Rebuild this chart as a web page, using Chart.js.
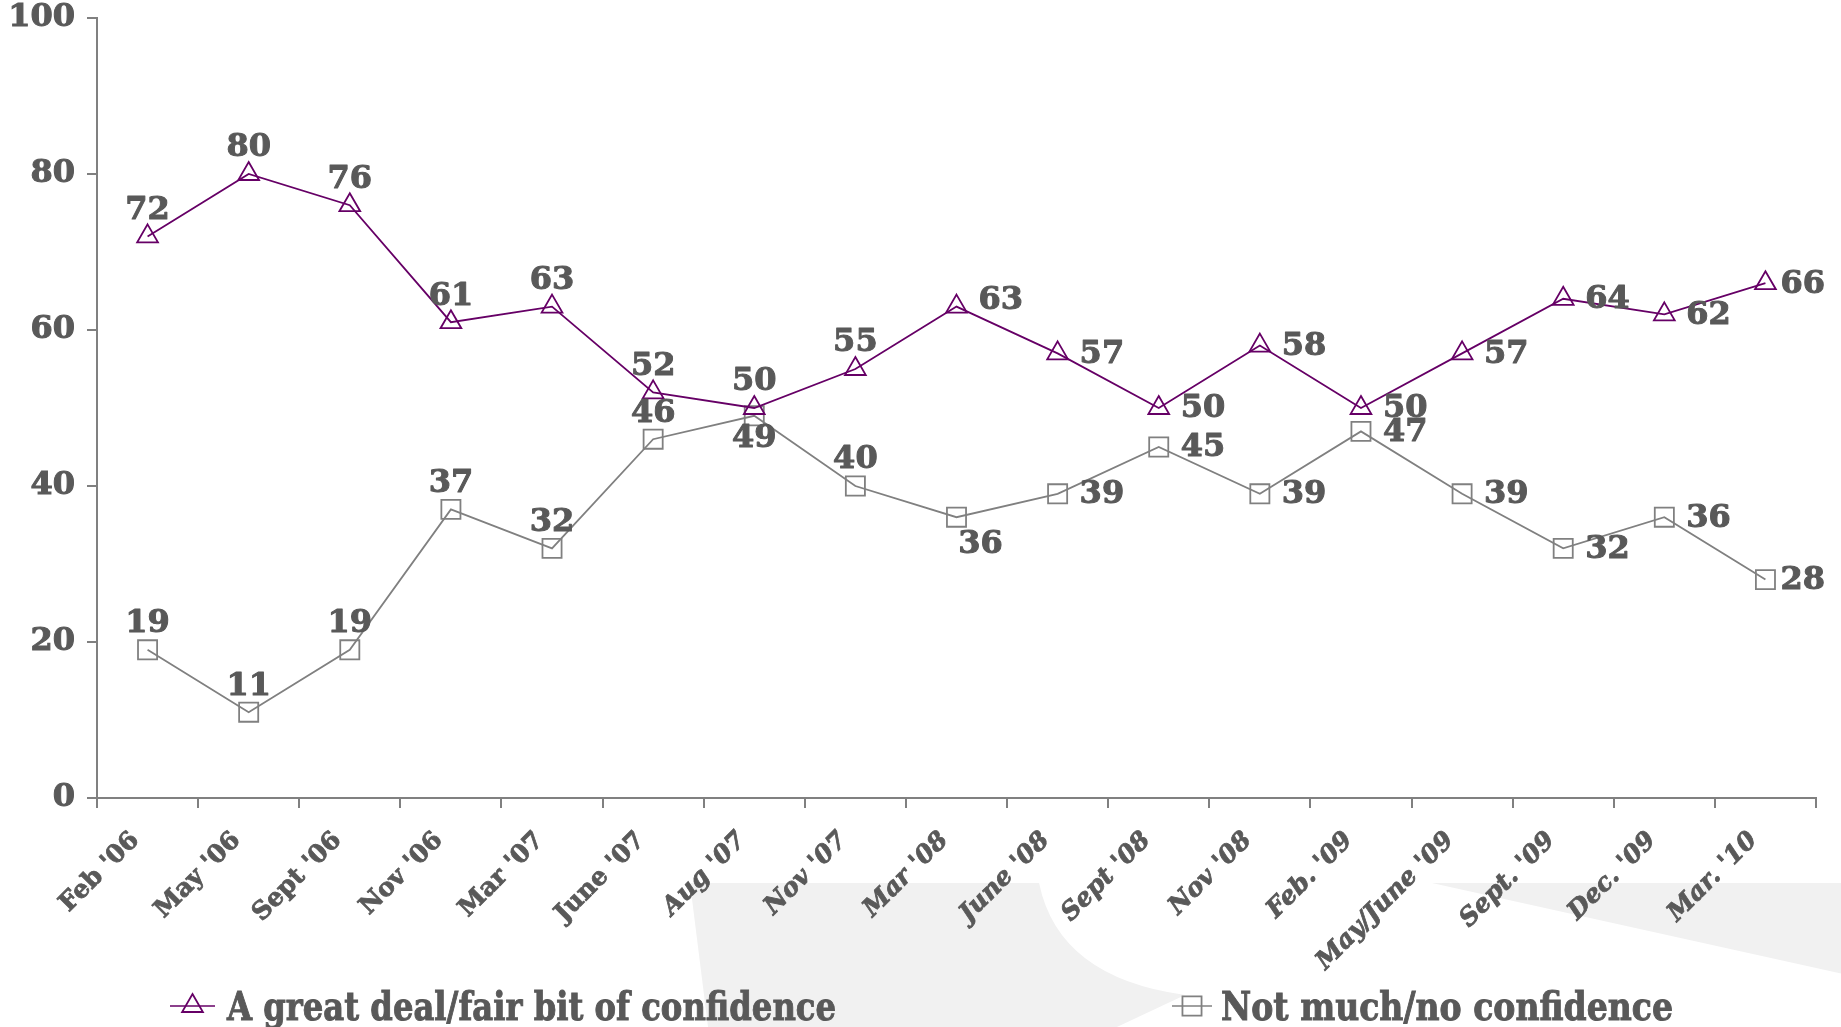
<!DOCTYPE html>
<html>
<head>
<meta charset="utf-8">
<script src="https://cdn.jsdelivr.net/npm/chart.js@4"></script>
<style>
  html, body { margin: 0; padding: 0; background: #ffffff; }
  canvas { display: block; }
</style>
</head>
<body>
<canvas id="c" width="1841" height="1027"></canvas>
<script>
const categories = ["Feb '06", "May '06", "Sept '06", "Nov '06", "Mar '07", "June '07", "Aug '07", "Nov '07", "Mar '08", "June '08", "Sept '08", "Nov '08", "Feb. '09", "May/June '09", "Sept. '09", "Dec. '09", "Mar. '10"];
const greatDeal = [72, 80, 76, 61, 63, 52, 50, 55, 63, 57, 50, 58, 50, 57, 64, 62, 66];
const notMuch = [19, 11, 19, 37, 32, 46, 49, 40, 36, 39, 45, 39, 47, 39, 32, 36, 28];
const seriesNames = ["A great deal/fair bit of confidence", "Not much/no confidence"];
const yTicks = [0, 20, 40, 60, 80, 100];

// label placement codes: t = above, r = right, b = below, br = below-right, tr = slightly raised right, rc = close right
const placeGreat = ['t','t','t','t','t','t','t','t','tr','r','r','r','r','r','r','r','rc'];
const placeNot   = ['t','t','t','t','t','t','b','t','br','r','r','r','r','r','r','r','rc'];

const TEXT = '#595959';
const PURPLE = '#660066';
const GREY = '#808080';

const backdrop = {
  id: 'backdrop',
  beforeDraw(chart) {
    const ctx = chart.ctx, W = chart.width, H = chart.height;
    ctx.save();
    ctx.fillStyle = '#f1f1f1';
    ctx.beginPath();
    ctx.moveTo(W * 0.3748, H * 0.8598);
    ctx.lineTo(W * 0.5644, H * 0.8598);
    ctx.quadraticCurveTo(W * 0.575, H * 0.952, W * 0.6437, H * 0.9688);
    ctx.lineTo(W * 0.6067, H);
    ctx.lineTo(W * 0.3846, H);
    ctx.closePath();
    ctx.fill();
    ctx.beginPath();
    ctx.moveTo(W * 0.7778, H * 0.8598);
    ctx.lineTo(W, H * 0.8598);
    ctx.lineTo(W, H * 0.948);
    ctx.closePath();
    ctx.fill();
    ctx.restore();
  }
};

const valueLabels = {
  id: 'valueLabels',
  afterDatasetsDraw(chart) {
    const ctx = chart.ctx;
    const places = [placeGreat, placeNot];
    ctx.save();
    ctx.font = 'bold 32px "DejaVu Serif"';
    ctx.fillStyle = TEXT;
    ctx.strokeStyle = TEXT;
    ctx.lineWidth = 1;
    ctx.lineJoin = 'round';
    chart.data.datasets.forEach((ds, di) => {
      const meta = chart.getDatasetMeta(di);
      meta.data.forEach((pt, i) => {
        const txt = String(ds.data[i]);
        const p = places[di][i];
        let x = pt.x, y = pt.y;
        ctx.textBaseline = 'middle';
        if (p === 't') { ctx.textAlign = 'center'; y -= 27; }
        else if (p === 'b') { ctx.textAlign = 'center'; y += 22; }
        else if (p === 'br') { ctx.textAlign = 'center'; x += 24; y += 26; }
        else if (p === 'tr') { ctx.textAlign = 'left'; x += 22; y -= 7; }
        else if (p === 'rc') { ctx.textAlign = 'left'; x += 15; }
        else { ctx.textAlign = 'left'; x += 22; }
        ctx.fillText(txt, x, y + 1);
        ctx.strokeText(txt, x, y + 1);
      });
    });
    ctx.restore();
  }
};

const customLegend = {
  id: 'customLegend',
  afterDraw(chart) {
    const ctx = chart.ctx;
    const items = [
      { lineX: 170, lineW: 45, textX: 227, maxW: 609 },
      { lineX: 1172, lineW: 40, textX: 1221, maxW: 452 }
    ];
    const yMid = 1006;
    ctx.save();
    chart.data.datasets.forEach((ds, i) => {
      const it = items[i];
      ctx.strokeStyle = ds.borderColor;
      ctx.lineWidth = 1.5;
      ctx.beginPath();
      ctx.moveTo(it.lineX, yMid);
      ctx.lineTo(it.lineX + it.lineW, yMid);
      ctx.stroke();
      ctx.lineWidth = ds.pointBorderWidth;
      ctx.fillStyle = 'rgba(0,0,0,0)';
      Chart.helpers.drawPoint(ctx, { pointStyle: ds.pointStyle, radius: ds.pointRadius, rotation: 0, borderWidth: ds.pointBorderWidth }, it.lineX + it.lineW / 2, yMid);
      ctx.fillStyle = TEXT;
      ctx.strokeStyle = TEXT;
      ctx.lineWidth = 1;
      ctx.font = 'bold 40px "DejaVu Serif"';
      ctx.textAlign = 'left';
      ctx.textBaseline = 'alphabetic';
      ctx.fillText(ds.label, it.textX, yMid + 14, it.maxW);
      ctx.strokeText(ds.label, it.textX, yMid + 14, it.maxW);
    });
    ctx.restore();
  }
};

new Chart(document.getElementById('c'), {
  type: 'line',
  data: {
    labels: categories,
    datasets: [
      {
        label: seriesNames[0],
        data: greatDeal,
        borderColor: PURPLE,
        borderWidth: 1.8,
        pointStyle: 'triangle',
        pointRadius: 12,
        pointBorderWidth: 1.8,
        pointBorderColor: PURPLE,
        pointBackgroundColor: 'rgba(0,0,0,0)',
        tension: 0,
        fill: false
      },
      {
        label: seriesNames[1],
        data: notMuch,
        borderColor: GREY,
        borderWidth: 1.8,
        pointStyle: 'rect',
        pointRadius: 13.5,
        pointBorderWidth: 1.8,
        pointBorderColor: GREY,
        pointBackgroundColor: 'rgba(0,0,0,0)',
        tension: 0,
        fill: false
      }
    ]
  },
  options: {
    responsive: false,
    animation: false,
    layout: { padding: { top: 18, right: 25, left: 0, bottom: 0 } },
    plugins: {
      legend: { display: false },
      tooltip: { enabled: false }
    },
    scales: {
      x: {
        type: 'category',
        offset: true,
        grid: { offset: true, drawOnChartArea: false, drawTicks: true, tickLength: 10, color: GREY, lineWidth: 2 },
        border: { color: GREY, width: 2 },
        ticks: {
          autoSkip: false,
          minRotation: 45,
          maxRotation: 45,
          padding: 18,
          labelOffset: -12,
          color: TEXT,
          textStrokeColor: TEXT,
          textStrokeWidth: 0.8,
          font: (c) => ({ family: '"DejaVu Serif"', weight: 'bold', style: c.index < 6 ? 'normal' : 'italic', size: 25 })
        },
        afterFit(scale) { scale.height = 229; }
      },
      y: {
        min: 0,
        max: 100,
        afterBuildTicks(scale) { scale.ticks = yTicks.map(v => ({ value: v })); },
        grid: { drawOnChartArea: false, drawTicks: true, tickLength: 10, color: GREY, lineWidth: 2 },
        border: { color: GREY, width: 2 },
        ticks: {
          padding: 12,
          color: TEXT,
          textStrokeColor: TEXT,
          textStrokeWidth: 1,
          font: { family: '"DejaVu Serif"', weight: 'bold', size: 32 }
        },
        afterFit(scale) { scale.width = 97; scale.paddingTop = 0; scale.paddingBottom = 0; }
      }
    }
  },
  plugins: [backdrop, valueLabels, customLegend]
});
</script>
</body>
</html>
